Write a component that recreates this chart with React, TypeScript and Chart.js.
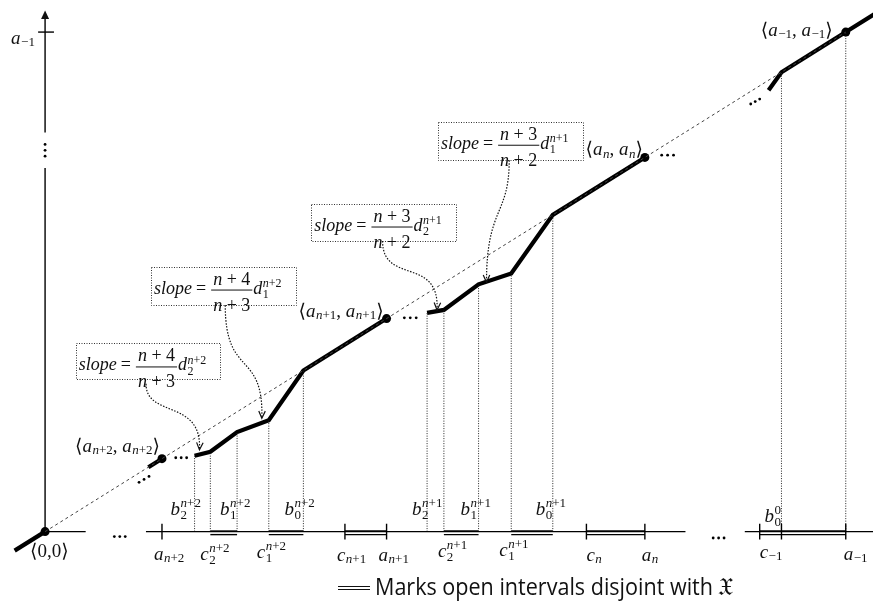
import React, { useEffect, useRef } from 'react';
import { Chart, registerables } from 'chart.js';

Chart.register(...registerables);

// ---------- data (diagram units: origin = 0, a_{-1} = 100 on both axes) ----------
const A_NAMES = ['a_{n+2}', 'a_{n+1}', 'a_n', 'a_{−1}'];
const A_VALUES = [14.6, 42.65, 74.91, 100];
const C_NAMES = ['c_{n+1}', 'c_n', 'c_{−1}'];
const C_VALUES = [37.45, 67.61, 89.25];
// level n+2 block: b2, c2, b1, c1, b0
const BLOCK1_NAMES = ['b_2^{n+2}', 'c_2^{n+2}', 'b_1^{n+2}', 'c_1^{n+2}', 'b_0^{n+2}'];
const BLOCK1_X = [18.67, 20.64, 23.98, 27.94, 32.26];
const BLOCK1_Y = [15.19, 15.98, 19.92, 22.29, 32.26];
// level n+1 block: b2, c2, b1, c1, b0
const BLOCK2_NAMES = ['b_2^{n+1}', 'c_2^{n+1}', 'b_1^{n+1}', 'c_1^{n+1}', 'b_0^{n+1}'];
const BLOCK2_X = [47.71, 49.81, 54.14, 58.22, 63.41];
const BLOCK2_Y = [43.79, 44.38, 49.51, 51.68, 63.41];
// top piece: start, b_0^0, a_{-1}, beyond
const TOP_X = [90.36, 91.97, 100, 104];
const TOP_Y = [88.36, 91.97, 100, 104];
const B00 = 91.97;
const ORIGIN_TAIL = -3.8;
const PRE_A_START = 12.9;
// ellipsis dots
const DOTS_X = [8.65, 9.33, 10.01, 83.44, 84.12, 84.8, 0, 0, 0, 16.32, 17.0, 17.68, 11.74, 12.36, 12.98, 44.87, 45.61, 46.35, 77.01, 77.75, 78.49, 88.13, 88.69, 89.25];
const DOTS_Y = [-0.99, -0.99, -0.99, -1.28, -1.28, -1.28, 77.51, 76.33, 75.15, 14.79, 14.79, 14.79, 9.86, 10.45, 11.05, 42.8, 42.8, 42.8, 75.35, 75.35, 75.35, 85.6, 86.09, 86.59];
// axis pieces
const X_AXIS_SEGMENTS = [[0, 5.07], [12.6, 79.98], [87.39, 104]];
const Y_AXIS_SEGMENTS = [[0, 72.8], [79.9, 102.6]];
const Y_ARROW_TIP = 104.3;
// slope annotation boxes [left, top, right, bottom] and texts
const BOX_RECTS = [
  [3.83, 37.67, 21.76, 30.37],
  [13.23, 53.06, 31.4, 45.36],
  [33.25, 65.68, 51.3, 58.19],
  [49.07, 82.05, 67.12, 74.36],
];
const BOX_NUM = ['n + 4', 'n + 4', 'n + 3', 'n + 3'];
const BOX_DEN = ['n + 3', 'n + 3', 'n + 2', 'n + 2'];
const BOX_D = ['d_2^{n+2}', 'd_1^{n+2}', 'd_2^{n+1}', 'd_1^{n+1}'];
// dotted arrows (cubic bezier: start, c1, c2, end)
const ARROWS = [
  [[12.61, 29.59], [12.61, 22.68], [19.65, 26.63], [19.28, 16.37]],
  [[22.5, 45.36], [22.5, 30.57], [27.32, 36.49], [27.07, 22.68]],
  [[42.15, 58.19], [42.15, 49.31], [49.32, 55.23], [48.95, 44.38]],
  [[57.97, 74.36], [57.97, 63.12], [55.13, 65.09], [55.13, 49.9]],
];

const X_MIN = -5.068, X_MAX = 102.84, Y_MIN = -15.19, Y_MAX = 105.52;

const SERIF = "'Liberation Serif', 'DejaVu Serif', serif";
const SANS = "'Open Sans', 'Noto Sans', sans-serif";
const INK = '#111';
const MATH_SIZE = 19;

type Pt = { x: number; y: number };

function lineDs(pts: Pt[], w: number, dash: number[] = [], color = '#000') {
  return {
    type: 'scatter' as const,
    data: pts,
    showLine: true,
    borderColor: color,
    backgroundColor: color,
    borderWidth: w,
    borderDash: dash,
    pointRadius: 0,
    pointHoverRadius: 0,
    fill: false,
    tension: 0,
    clip: false as any,
    borderJoinStyle: 'miter' as const,
  };
}

function mathFont(c: string, s: number) {
  return `${/[a-zA-Z]/.test(c) ? 'italic ' : ''}${s}px ${SERIF}`;
}

function drawMathWidth(ctx: CanvasRenderingContext2D, src: string, size: number) {
  let w = 0;
  for (const c of Array.from(src)) {
    ctx.font = mathFont(c, size);
    w += ctx.measureText(c).width;
  }
  return w;
}

function drawMath(ctx: CanvasRenderingContext2D, x: number, y: number, src: string, size: number, align: 'left' | 'right' | 'center' = 'left') {
  type Tok = { kind: 'c'; ch: string } | { kind: 's'; sub?: string; sup?: string };
  const toks: Tok[] = [];
  const chars = Array.from(src);
  let i = 0;
  const readGroup = () => {
    if (chars[i] === '{') {
      let j = i + 1;
      let g = '';
      while (j < chars.length && chars[j] !== '}') { g += chars[j]; j++; }
      i = j + 1;
      return g;
    }
    return chars[i++];
  };
  while (i < chars.length) {
    const ch = chars[i];
    if (ch === '_' || ch === '^') {
      i++;
      const g = readGroup();
      let sub: string | undefined, sup: string | undefined;
      if (ch === '_') sub = g; else sup = g;
      if (chars[i] === '_' || chars[i] === '^') {
        const c2 = chars[i];
        i++;
        const g2 = readGroup();
        if (c2 === '_') sub = g2; else sup = g2;
      }
      toks.push({ kind: 's', sub, sup });
    } else {
      toks.push({ kind: 'c', ch });
      i++;
    }
  }
  const drawStr = (str: string, s: number, x0: number, y0: number) => {
    let xx = x0;
    for (const c of Array.from(str)) { ctx.font = mathFont(c, s); ctx.fillText(c, xx, y0); xx += ctx.measureText(c).width; }
    return xx;
  };
  const ss = Math.round(size * 0.69);
  let total = 0;
  for (const t of toks) {
    if (t.kind === 'c') total += drawMathWidth(ctx, t.ch, size);
    else total += Math.max(t.sub != null ? drawMathWidth(ctx, t.sub, ss) : 0, t.sup != null ? drawMathWidth(ctx, t.sup, ss) : 0) + 0.5;
  }
  let xx = align === 'center' ? x - total / 2 : align === 'right' ? x - total : x;
  ctx.textAlign = 'left';
  ctx.textBaseline = 'alphabetic';
  for (const t of toks) {
    if (t.kind === 'c') xx = drawStr(t.ch, size, xx, y);
    else {
      const stacked = t.sub != null && t.sup != null;
      let w = 0;
      if (t.sup != null) w = Math.max(w, drawStr(t.sup, ss, xx + 0.5, y - size * (stacked ? 0.38 : 0.42)) - xx);
      if (t.sub != null) w = Math.max(w, drawStr(t.sub, ss, xx + 0.5, y + size * (stacked ? 0.25 : 0.12)) - xx);
      xx += w;
    }
  }
  return total;
}

const textPlugin = {
  id: 'diagramText',
  afterDatasetsDraw(chart: any) {
    const ctx: CanvasRenderingContext2D = chart.ctx;
    const xs = chart.scales.x, ys = chart.scales.y;
    const X = (v: number) => xs.getPixelForValue(v);
    const Y = (v: number) => ys.getPixelForValue(v);
    ctx.save();
    ctx.fillStyle = INK;
    ctx.strokeStyle = INK;

    // y-axis arrowhead
    ctx.beginPath();
    ctx.moveTo(X(0), Y(Y_ARROW_TIP));
    ctx.lineTo(X(0) - 4, Y(Y_AXIS_SEGMENTS[1][1]));
    ctx.lineTo(X(0) + 4, Y(Y_AXIS_SEGMENTS[1][1]));
    ctx.closePath();
    ctx.fill();

    // slope boxes
    BOX_RECTS.forEach((r, k) => {
      const l = X(r[0]), t = Y(r[1]), rr = X(r[2]), b = Y(r[3]);
      ctx.save();
      ctx.setLineDash([1, 1.5]);
      ctx.lineWidth = 1;
      ctx.strokeStyle = '#333';
      ctx.strokeRect(Math.round(l) + 0.5, Math.round(t) + 0.5, Math.round(rr - l), Math.round(b - t));
      ctx.restore();
      const size = 18;
      let x = l + 3;
      const base = t + 27;
      x += drawMath(ctx, x, base, 'slope', size) + 4;
      ctx.font = `${size}px ${SERIF}`;
      ctx.fillText('=', x, base);
      x += ctx.measureText('=').width + 5;
      const wn = drawMathWidth(ctx, BOX_NUM[k], size);
      const wd = drawMathWidth(ctx, BOX_DEN[k], size);
      const fw = Math.max(wn, wd) + 4;
      drawMath(ctx, x + fw / 2, t + 18, BOX_NUM[k], size, 'center');
      drawMath(ctx, x + fw / 2, t + 44, BOX_DEN[k], size, 'center');
      ctx.save();
      ctx.lineWidth = 1;
      ctx.beginPath();
      ctx.moveTo(x, t + 23.5);
      ctx.lineTo(x + fw, t + 23.5);
      ctx.stroke();
      ctx.restore();
      x += fw + 1;
      drawMath(ctx, x, base, BOX_D[k], size);
    });

    // dotted arrows
    ARROWS.forEach((a) => {
      const p = a.map(([u, v]) => [X(u), Y(v)]);
      ctx.save();
      ctx.setLineDash([1.5, 1.5]);
      ctx.lineWidth = 1.2;
      ctx.beginPath();
      ctx.moveTo(p[0][0], p[0][1]);
      ctx.bezierCurveTo(p[1][0], p[1][1], p[2][0], p[2][1], p[3][0], p[3][1]);
      ctx.stroke();
      ctx.setLineDash([]);
      const ang = Math.atan2(p[3][1] - p[2][1], p[3][0] - p[2][0]);
      const L = 8;
      ctx.beginPath();
      ctx.moveTo(p[3][0] - L * Math.cos(ang - 0.42), p[3][1] - L * Math.sin(ang - 0.42));
      ctx.lineTo(p[3][0], p[3][1]);
      ctx.lineTo(p[3][0] - L * Math.cos(ang + 0.42), p[3][1] - L * Math.sin(ang + 0.42));
      ctx.stroke();
      ctx.restore();
    });

    // labels: [text, anchorX, anchorY, dx, dy, align]
    const labels: [string, number, number, number, number, 'left' | 'right'][] = [
      [A_NAMES[0], A_VALUES[0], 0, -8, 28, 'left'],
      [BLOCK1_NAMES[1], BLOCK1_X[1], 0, -10, 28, 'left'],
      [BLOCK1_NAMES[3], BLOCK1_X[3], 0, -12, 26, 'left'],
      [C_NAMES[0], C_VALUES[0], 0, -8, 29, 'left'],
      [A_NAMES[1], A_VALUES[1], 0, -8, 29, 'left'],
      [BLOCK2_NAMES[1], BLOCK2_X[1], 0, -6, 25, 'left'],
      [BLOCK2_NAMES[3], BLOCK2_X[3], 0, -12, 24, 'left'],
      [C_NAMES[1], C_VALUES[1], 0, 0, 29, 'left'],
      [A_NAMES[2], A_VALUES[2], 0, -3, 29, 'left'],
      [C_NAMES[2], C_VALUES[2], 0, 0, 26, 'left'],
      [A_NAMES[3], A_VALUES[3], 0, -2, 28, 'left'],
      [BLOCK1_NAMES[0], BLOCK1_X[0], 0, -24, -17, 'left'],
      [BLOCK1_NAMES[2], BLOCK1_X[2], 0, -17, -17, 'left'],
      [BLOCK1_NAMES[4], BLOCK1_X[4], 0, -19, -17, 'left'],
      [BLOCK2_NAMES[0], BLOCK2_X[0], 0, -15, -17, 'left'],
      [BLOCK2_NAMES[2], BLOCK2_X[2], 0, -18, -17, 'left'],
      [BLOCK2_NAMES[4], BLOCK2_X[4], 0, -17, -17, 'left'],
      ['b_0^0', B00, 0, -17, -10, 'left'],
      ['⟨0,0⟩', 0, 0, -15, 25, 'left'],
      [`⟨${A_NAMES[0]}, ${A_NAMES[0]}⟩`, A_VALUES[0], A_VALUES[0], -2, -7, 'right'],
      [`⟨${A_NAMES[1]}, ${A_NAMES[1]}⟩`, A_VALUES[1], A_VALUES[1], -3, -2, 'right'],
      [`⟨${A_NAMES[2]}, ${A_NAMES[2]}⟩`, A_VALUES[2], A_VALUES[2], -2, -2, 'right'],
      [`⟨${A_NAMES[3]}, ${A_NAMES[3]}⟩`, A_VALUES[3], A_VALUES[3], -13, 4, 'right'],
      [A_NAMES[3], 0, A_VALUES[3], -34, 12, 'left'],
    ];
    labels.forEach(([s, ax, ay, dx, dy, al]) => {
      drawMath(ctx, X(ax) + dx, Y(ay) + dy, s, MATH_SIZE, al);
    });

    // legend
    ctx.save();
    ctx.lineWidth = 1.2;
    ctx.beginPath();
    ctx.moveTo(338, 586.5); ctx.lineTo(370, 586.5);
    ctx.moveTo(338, 589.5); ctx.lineTo(370, 589.5);
    ctx.stroke();
    const legend = 'Marks open intervals disjoint with';
    ctx.font = `24px ${SANS}`;
    const w = ctx.measureText(legend).width;
    const sx = 338 / w;
    ctx.translate(375, 595);
    ctx.scale(sx, 1);
    ctx.fillText(legend, 0, 0);
    ctx.restore();
    ctx.font = `25px 'DejaVu Serif', 'DejaVu Sans', serif`;
    ctx.fillText('𝔛', 718, 595);

    ctx.restore();
  },
};

export default function App() {
  const ref = useRef<HTMLCanvasElement | null>(null);
  useEffect(() => {
    if (!ref.current) return;
    const datasets: any[] = [];
    // diagonal
    datasets.push(lineDs([{ x: 0, y: 0 }, { x: A_VALUES[3], y: A_VALUES[3] }], 1, [3, 3], '#444'));
    // axes
    X_AXIS_SEGMENTS.forEach(([a, b]) => datasets.push(lineDs([{ x: a, y: 0 }, { x: b, y: 0 }], 1.4)));
    Y_AXIS_SEGMENTS.forEach(([a, b]) => datasets.push(lineDs([{ x: 0, y: a }, { x: 0, y: b }], 1.4)));
    // y tick
    datasets.push(lineDs([{ x: -0.87, y: A_VALUES[3] }, { x: 1.11, y: A_VALUES[3] }], 1.4));
    // x ticks
    [A_VALUES[0], C_VALUES[0], A_VALUES[1], C_VALUES[1], A_VALUES[2], C_VALUES[2], B00, A_VALUES[3]].forEach((v) =>
      datasets.push(lineDs([{ x: v, y: -1.58 }, { x: v, y: 1.58 }], 1.4))
    );
    // open intervals (double lines)
    const intervals = [
      [BLOCK1_X[1], BLOCK1_X[2]], [BLOCK1_X[3], BLOCK1_X[4]], [C_VALUES[0], A_VALUES[1]],
      [BLOCK2_X[1], BLOCK2_X[2]], [BLOCK2_X[3], BLOCK2_X[4]], [C_VALUES[1], A_VALUES[2]], [C_VALUES[2], A_VALUES[3]],
    ];
    intervals.forEach(([a, b]) => {
      datasets.push(lineDs([{ x: a, y: 0.1 }, { x: b, y: 0.1 }], 1.6));
      datasets.push(lineDs([{ x: a, y: -0.6 }, { x: b, y: -0.6 }], 1.4));
    });
    // vertical dotted lines
    const verts: [number, number][] = [];
    BLOCK1_X.forEach((x, k) => verts.push([x, BLOCK1_Y[k]]));
    BLOCK2_X.forEach((x, k) => verts.push([x, BLOCK2_Y[k]]));
    verts.push([TOP_X[1], TOP_Y[1]], [TOP_X[2], TOP_Y[2]]);
    verts.forEach(([x, y]) => datasets.push(lineDs([{ x, y: 0 }, { x, y }], 1, [1, 1.5], '#222')));
    // thick graph pieces
    const W = 4.2;
    datasets.push(lineDs([{ x: ORIGIN_TAIL, y: ORIGIN_TAIL }, { x: 0, y: 0 }], W));
    datasets.push(lineDs([{ x: PRE_A_START, y: PRE_A_START }, { x: A_VALUES[0], y: A_VALUES[0] }], W));
    datasets.push(lineDs([...BLOCK1_X.map((x, k) => ({ x, y: BLOCK1_Y[k] })), { x: A_VALUES[1], y: A_VALUES[1] }], W));
    datasets.push(lineDs([...BLOCK2_X.map((x, k) => ({ x, y: BLOCK2_Y[k] })), { x: A_VALUES[2], y: A_VALUES[2] }], W));
    datasets.push(lineDs(TOP_X.map((x, k) => ({ x, y: TOP_Y[k] })), W));
    // big dots
    datasets.push({
      type: 'scatter', data: [{ x: 0, y: 0 }, ...A_VALUES.map((v) => ({ x: v, y: v }))],
      showLine: false, pointRadius: 4.5, pointHoverRadius: 4.5, backgroundColor: '#000', borderColor: '#000', borderWidth: 0, clip: false,
    });
    // ellipsis dots
    datasets.push({
      type: 'scatter', data: DOTS_X.map((x, k) => ({ x, y: DOTS_Y[k] })),
      showLine: false, pointRadius: 1.4, pointHoverRadius: 1.4, backgroundColor: '#000', borderColor: '#000', borderWidth: 0, clip: false,
    });

    const chart = new Chart(ref.current, {
      type: 'scatter',
      data: { datasets },
      options: {
        responsive: false,
        animation: false,
        events: [],
        layout: { padding: 0 },
        plugins: { legend: { display: false }, tooltip: { enabled: false } },
        scales: {
          x: { type: 'linear', min: X_MIN, max: X_MAX, display: false },
          y: { type: 'linear', min: Y_MIN, max: Y_MAX, display: false },
        },
      },
      plugins: [textPlugin],
    } as any);
    return () => chart.destroy();
  }, []);
  return (
    <div style={{ position: 'absolute', left: 0, top: 0, width: 873, height: 612, background: '#fff' }}>
      <canvas ref={ref} width={873} height={612} style={{ display: 'block' }} />
    </div>
  );
}
